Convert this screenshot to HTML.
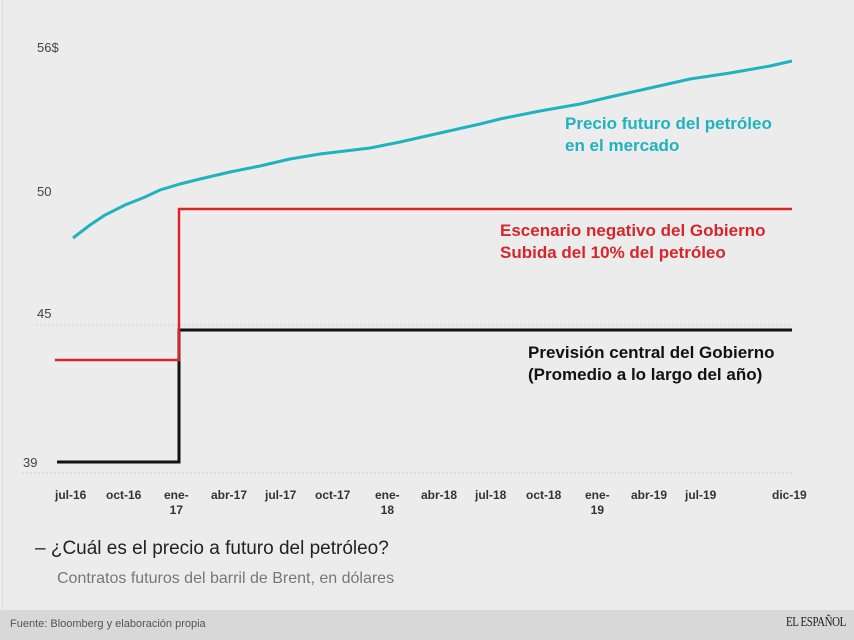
<!DOCTYPE html>
<html><head><meta charset="utf-8"><style>
body{margin:0;width:854px;height:640px;background:#ececec;font-family:"Liberation Sans",sans-serif;overflow:hidden;position:relative}
.t{position:absolute;white-space:nowrap}
</style></head><body>
<div style="position:absolute;left:2px;top:0;width:1px;height:610px;background:#dcdcdc"></div>
<svg width="854" height="640" style="position:absolute;left:0;top:0">
<line x1="36" y1="325" x2="792" y2="325" stroke="#ccc" stroke-dasharray="2,2"/>
<line x1="22" y1="473" x2="792" y2="473" stroke="#ccc" stroke-dasharray="2,2"/>
<polyline fill="none" stroke="#1fb3bd" stroke-width="3" points="73,238 90,225 105,215 125,205 145,197 160,190 180,184 200,179 230,172 260,166 290,159 320,154 370,148 400,142 440,133 480,124 500,119 540,111 580,104 610,97 650,88 690,79 730,73 770,66 792,61"/>
<polyline fill="none" stroke="#111" stroke-width="3" points="57,462 179,462 179,330 792,330"/>
<polyline fill="none" stroke="#d7262b" stroke-width="2.5" points="55,360 179,360 179,209 792,209"/>
</svg>
<div class="t" style="left:37px;top:40px;font-size:13px;color:#444">56$</div>
<div class="t" style="left:37px;top:184px;font-size:13px;color:#444">50</div>
<div class="t" style="left:37px;top:306px;font-size:13px;color:#444">45</div>
<div class="t" style="left:23px;top:455px;font-size:13px;color:#444">39</div>
<div class="t" style="left:565px;top:113px;font-size:17px;font-weight:bold;color:#1fb3bd;line-height:22px">Precio futuro del petróleo<br>en el mercado</div>
<div class="t" style="left:500px;top:220px;font-size:17px;font-weight:bold;color:#d7262b;line-height:22px">Escenario negativo del Gobierno<br>Subida del 10% del petróleo</div>
<div class="t" style="left:528px;top:342px;font-size:17px;font-weight:bold;color:#111;line-height:22px">Previsión central del Gobierno<br>(Promedio a lo largo del año)</div>
<div style="font-size:12px;font-weight:bold;color:#333;line-height:15px">
<div class="t" style="left:55px;top:488px">jul-16</div>
<div class="t" style="left:106px;top:488px">oct-16</div>
<div class="t" style="left:164px;top:488px;text-align:center">ene-<br>17</div>
<div class="t" style="left:211px;top:488px">abr-17</div>
<div class="t" style="left:265px;top:488px">jul-17</div>
<div class="t" style="left:315px;top:488px">oct-17</div>
<div class="t" style="left:375px;top:488px;text-align:center">ene-<br>18</div>
<div class="t" style="left:421px;top:488px">abr-18</div>
<div class="t" style="left:475px;top:488px">jul-18</div>
<div class="t" style="left:526px;top:488px">oct-18</div>
<div class="t" style="left:585px;top:488px;text-align:center">ene-<br>19</div>
<div class="t" style="left:631px;top:488px">abr-19</div>
<div class="t" style="left:685px;top:488px">jul-19</div>
<div class="t" style="left:772px;top:488px">dic-19</div>
</div>
<div class="t" style="left:35px;top:538px;font-size:19px;color:#222">– ¿Cuál es el precio a futuro del petróleo?</div>
<div class="t" style="left:57px;top:570px;font-size:16px;color:#777">Contratos futuros del barril de Brent, en dólares</div>
<div style="position:absolute;left:0;top:610px;width:854px;height:30px;background:#d8d8d8"></div>
<div class="t" style="left:10px;top:618px;font-size:11px;color:#555">Fuente: Bloomberg y elaboración propia</div>
<div class="t" style="left:786px;top:615px;font-size:14px;color:#222;font-family:'Liberation Serif',serif;letter-spacing:-0.5px;transform:scaleX(0.78);transform-origin:left top">EL ESPAÑOL</div>
</body></html>
